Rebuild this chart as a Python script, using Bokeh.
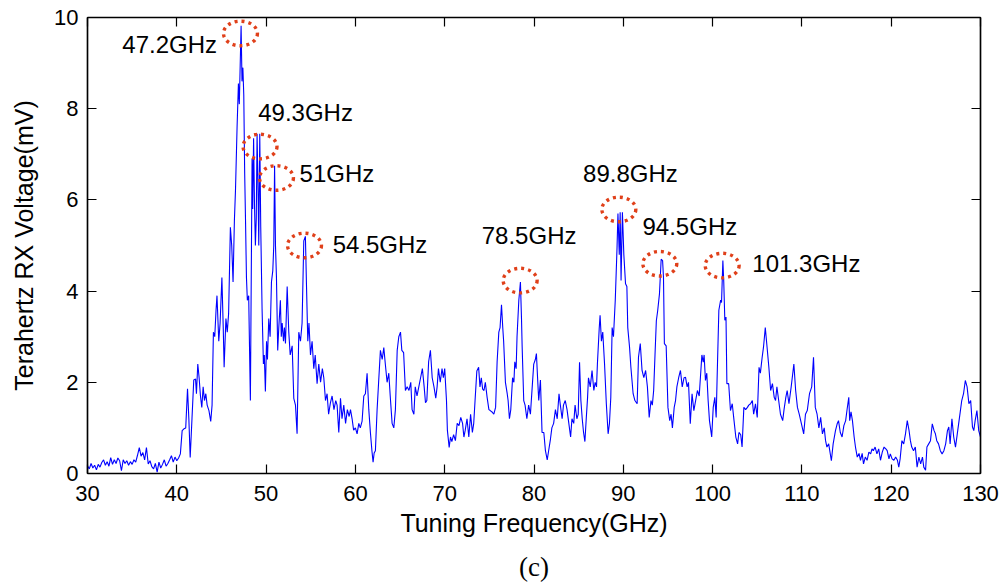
from bokeh.plotting import figure
from bokeh.models import Range1d, FixedTicker, LinearAxis, Title
from bokeh.core.properties import value
from bokeh.embed import file_html
from bokeh.resources import INLINE

# ---------------- data ----------------
freq_30_40 = [30.0,30.2,30.4,30.6,30.8,31.0,31.2,31.4,31.6,31.8,
              32.0,32.2,32.4,32.6,32.8,33.0,33.2,33.4,33.6,33.8,
              34.0,34.2,34.4,34.6,34.8,35.0,35.2,35.4,35.6,35.8,
              36.0,36.2,36.4,36.6,36.8,37.0,37.2,37.4,37.6,37.8,
              38.0,38.2,38.4,38.6,38.8,39.0,39.2,39.4,39.6,39.8,
              40.0,40.2,40.4]
volt_30_40 = [0.17,0.10,0.22,0.12,0.18,0.08,0.20,0.14,0.24,0.30,
              0.18,0.26,0.16,0.35,0.20,0.30,0.22,0.34,0.28,0.06,
              0.30,0.22,0.28,0.18,0.26,0.20,0.30,0.25,0.40,0.57,
              0.38,0.46,0.30,0.57,0.21,0.28,0.15,0.10,0.22,0.03,
              0.25,0.12,0.20,0.30,0.16,0.22,0.30,0.39,0.25,0.36,
              0.28,0.34,0.43]

freq_40_51 = [40.6,40.8,41.0,41.2,41.35,41.5,41.7,41.9,42.1,42.2,
              42.35,42.5,42.65,42.8,42.95,43.1,43.25,43.4,43.6,43.8,
              43.95,44.1,44.25,44.4,44.5,44.7,44.85,45.05,45.2,45.3,
              45.5,45.65,45.8,46.0,46.15,46.3,46.45,46.57,46.75,46.9,
              47.0,47.2,47.3,47.4,47.5,47.6,47.7,47.8,47.9,48.05,
              48.24,48.43,48.5,48.6,48.7,48.8,48.9,48.99,49.1,49.18,
              49.29,49.4,49.55,49.7,49.8,49.92,50.05,50.15,50.3,50.45,
              50.6,50.75,50.86,50.95]
volt_40_51 = [0.94,0.98,1.0,1.86,1.2,0.35,1.2,2.05,2.07,1.75,
              2.4,2.1,1.7,1.45,1.9,1.6,1.75,1.5,1.38,1.14,
              1.5,3.1,3.0,3.6,3.9,2.9,3.3,4.3,3.2,2.33,
              3.4,3.1,3.5,5.4,5.0,4.2,5.55,6.2,7.6,8.55,
              8.1,9.82,8.6,8.9,8.3,6.6,5.5,4.3,3.8,3.9,
              1.6,6.9,5.8,7.35,5.9,5.0,5.6,7.45,6.2,5.0,
              7.45,5.4,3.6,2.4,2.6,1.8,2.9,2.5,3.4,3.0,
              4.2,4.45,5.0,6.75]

freq_51_65 = [51.05,51.16,51.3,51.42,51.6,51.7,51.8,51.95,52.05,52.17,
              52.36,52.54,52.7,52.92,53.1,53.29,53.47,53.66,53.85,54.03,
              54.22,54.4,54.52,54.67,54.8,54.97,55.15,55.34,55.5,55.71,
              55.9,56.1,56.3,56.46,56.65,56.83,57.0,57.2,57.39,57.6,
              57.8,57.95,58.14,58.33,58.5,58.7,58.9,59.1,59.3,59.45,
              59.63,59.8,60.0,60.19,60.38,60.55,60.75,60.94,61.12,61.31,
              61.5,61.68,61.85,61.98,62.1,62.24,62.43,62.6,62.8,63.0,
              63.18,63.35,63.55,63.74,63.9,64.11,64.3,64.48,64.68,64.86]
volt_51_65 = [5.0,4.3,2.7,3.2,3.8,3.0,3.3,2.9,3.2,2.85,
              4.1,3.1,2.6,2.8,1.65,1.5,0.87,3.1,2.9,3.3,
              5.1,5.2,4.15,2.9,3.3,2.6,2.9,2.3,2.6,1.97,
              2.4,2.0,2.3,2.1,1.6,1.75,1.3,1.55,1.7,1.4,
              1.6,1.5,0.9,1.65,1.2,1.5,1.1,1.4,1.25,1.4,
              1.2,0.95,1.0,0.87,1.1,1.0,1.15,1.7,1.75,2.2,
              1.4,0.9,0.5,0.25,0.45,0.5,1.4,2.0,2.7,2.5,
              2.76,2.4,2.0,2.2,1.7,1.1,1.0,1.4,2.7,3.0]

freq_65_80 = [65.05,65.2,65.4,65.6,65.8,66.0,66.2,66.35,66.55,66.7,
              66.9,67.1,67.3,67.5,67.7,67.85,68.0,68.2,68.4,68.6,
              68.8,69.0,69.15,69.3,69.5,69.7,69.85,70.0,70.2,70.3,
              70.5,70.65,70.8,71.0,71.2,71.4,71.6,71.8,72.0,72.15,
              72.3,72.5,72.7,72.9,73.1,73.25,73.4,73.6,73.8,73.95,
              74.1,74.25,74.4,74.55,74.75,74.95,75.1,75.3,75.5,75.7,
              75.87,76.06,76.2,76.36,76.5,76.6,76.8,77.0,77.1,77.25,
              77.4,77.6,77.75,77.85,78.0,78.1,78.3,78.48,78.6,78.67,
              78.85,79.0,79.2,79.4,79.6,79.8,79.97]
volt_65_80 = [3.1,2.7,2.65,1.82,1.9,1.82,2.0,1.4,1.3,1.9,
              1.7,1.9,2.1,2.3,1.9,1.55,1.6,2.45,2.7,2.1,
              1.9,1.65,1.9,2.3,2.0,2.3,2.1,2.3,1.6,0.95,
              0.57,0.8,0.7,0.85,0.72,1.1,1.05,1.23,1.1,0.8,
              0.95,1.2,0.8,1.3,0.9,1.1,1.6,2.25,2.33,1.9,
              2.1,1.85,1.82,2.0,1.67,1.4,1.38,1.35,1.3,1.45,
              2.45,3.1,3.2,3.7,3.2,2.9,2.0,1.75,1.6,1.2,
              1.4,2.1,2.0,2.45,2.3,3.0,3.8,4.2,3.4,2.8,
              1.6,1.5,1.2,1.5,1.3,1.9,2.4]

freq_80_97 = [80.15,80.27,80.4,80.53,80.72,80.9,81.1,81.28,81.48,81.6,
              81.84,82.0,82.2,82.4,82.6,82.8,82.95,83.15,83.3,83.5,
              83.7,83.9,84.1,84.25,84.45,84.6,84.8,84.95,85.1,85.25,
              85.4,85.55,85.7,85.85,86.0,86.1,86.3,86.5,86.7,86.85,
              87.0,87.1,87.3,87.4,87.55,87.7,87.9,88.1,88.3,88.45,
              88.6,88.75,88.9,89.1,89.3,89.4,89.55,89.65,89.75,89.9,
              90.06,90.25,90.4,90.5,90.7,90.85,91.1,91.3,91.55,91.7,
              91.9,92.1,92.3,92.5,92.7,92.9,93.1,93.25,93.4,93.55,
              93.7,93.85,94.05,94.24,94.4,94.5,94.6,94.8,95.0,95.2,
              95.35,95.5,95.7,95.85,96.0,96.2,96.4,96.6,96.8]
volt_80_97 = [2.5,2.63,2.1,1.6,2.05,0.9,0.9,0.5,0.3,0.45,
              0.75,1.0,1.1,1.4,1.2,1.75,1.5,1.2,1.5,1.6,
              1.4,1.1,0.8,1.2,1.1,1.5,1.2,1.3,2.44,1.6,
              1.2,0.9,0.7,1.2,1.67,2.1,1.9,2.26,1.82,2.0,
              1.9,2.4,3.17,3.47,2.9,3.1,2.4,1.53,0.87,1.1,
              1.67,3.2,3.0,3.8,4.96,5.7,4.8,5.73,4.23,5.73,
              4.8,4.16,4.1,3.2,2.77,2.33,1.75,1.6,1.53,2.55,
              2.85,2.26,2.1,2.26,1.9,1.23,1.6,1.5,1.82,2.6,
              3.35,3.57,3.94,4.7,4.67,4.3,2.85,2.8,1.45,1.16,
              1.3,1.0,1.45,1.6,1.9,2.1,2.26,1.9,2.1]

freq_97_113 = [96.97,97.15,97.3,97.5,97.7,97.9,98.1,98.3,98.5,98.8,
               98.95,99.05,99.2,99.35,99.5,99.65,99.9,100.07,100.25,100.4,
               100.5,100.7,100.9,101.0,101.15,101.25,101.37,101.5,101.6,101.8,
               102.0,102.2,102.4,102.6,102.8,102.95,103.15,103.3,103.5,103.7,
               103.9,104.05,104.25,104.45,104.6,104.8,105.0,105.2,105.35,105.55,
               105.7,105.9,106.1,106.3,106.5,106.7,106.9,107.05,107.2,107.4,
               107.6,107.85,108.0,108.2,108.35,108.55,108.8,109.1,109.3,109.5,
               109.7,109.95,110.2,110.4,110.6,110.85,111.1,111.3,111.5,111.7,
               111.9,112.1,112.3,112.5,112.65,112.8,113.0,113.3,113.5]
volt_97_113 = [2.11,1.9,2.0,1.09,1.75,1.38,1.6,1.82,1.7,2.6,
               2.44,2.6,2.04,2.2,1.6,1.16,0.8,1.45,1.67,1.23,
               2.04,3.58,3.8,3.75,4.67,4.2,3.36,3.43,1.97,1.97,
               1.38,1.53,1.16,0.8,0.65,0.9,0.85,0.58,1.45,1.4,
               1.45,1.5,1.53,1.6,1.3,1.53,1.23,2.33,2.2,2.55,
               2.77,3.2,2.77,2.33,1.82,1.97,1.67,1.6,1.9,1.6,
               1.3,1.16,1.4,1.67,1.82,1.53,1.9,2.4,1.82,1.45,
               1.3,1.09,0.87,1.3,1.38,1.75,1.9,2.55,1.45,1.3,
               1.0,1.23,0.87,1.0,0.72,0.58,0.65,0.28,0.65]

freq_113_130 = [113.76,113.95,114.1,114.3,114.5,114.7,114.9,115.07,115.25,115.35,
                115.5,115.66,115.85,116.0,116.2,116.4,116.56,116.75,116.9,117.1,
                117.3,117.5,117.7,117.85,118.0,118.2,118.4,118.6,118.8,119.0,
                119.2,119.4,119.55,119.75,119.9,120.1,120.3,120.5,120.7,120.85,
                121.0,121.2,121.4,121.6,121.8,122.0,122.15,122.3,122.5,122.7,
                122.9,123.1,123.3,123.5,123.65,123.85,124.0,124.2,124.4,124.6,
                124.8,124.95,125.1,125.3,125.5,125.7,125.9,126.1,126.3,126.45,
                126.6,126.8,127.0,127.2,127.4,127.6,127.75,127.9,128.1,128.3,
                128.5,128.7,128.9,129.1,129.25,129.4,129.6,129.8,130.0]
volt_113_130 = [0.94,1.09,1.16,0.9,0.8,1.05,1.16,1.42,1.67,1.16,
                1.35,1.16,0.8,0.58,0.36,0.44,0.29,0.44,0.21,0.36,
                0.29,0.47,0.43,0.54,0.5,0.58,0.43,0.54,0.29,0.47,
                0.58,0.54,0.5,0.32,0.43,0.32,0.29,0.36,0.29,0.14,
                0.32,0.72,0.65,0.87,1.16,0.94,0.72,0.58,0.5,0.58,
                0.14,0.36,0.21,0.36,0.14,0.07,0.58,0.65,0.72,1.09,
                0.94,0.87,0.72,0.65,0.5,0.43,0.5,0.65,0.94,1.02,
                0.65,1.2,0.8,0.58,0.87,1.16,1.38,1.6,1.75,2.04,
                1.9,1.53,1.6,1.02,0.94,1.16,1.38,0.94,0.8]

# marked peaks (ellipse centres) and their labels
peak_freq = [47.13, 49.32, 51.16, 54.30, 78.45, 89.50, 94.09, 101.07]
peak_volt = [9.65, 7.17, 6.48, 5.00, 4.23, 5.79, 4.60, 4.56]
peak_labels = ["47.2GHz", "49.3GHz", "51GHz", "54.5GHz",
               "78.5GHz", "89.8GHz", "94.5GHz", "101.3GHz"]
label_freq = [33.9, 49.12, 53.75, 57.45, 74.15, 85.5, 92.15, 104.45]
label_volt = [9.41, 7.92, 6.57, 5.02, 5.22, 6.58, 5.42, 4.60]

x_ticks = [30, 40, 50, 60, 70, 80, 90, 100, 110, 120, 130]
y_ticks = [0, 2, 4, 6, 8, 10]

# ---------------- assemble ----------------
segments = [(freq_30_40, volt_30_40), (freq_40_51, volt_40_51),
            (freq_51_65, volt_51_65), (freq_65_80, volt_65_80),
            (freq_80_97, volt_80_97), (freq_97_113, volt_97_113),
            (freq_113_130, volt_113_130)]
freq, volt = [], []
for f, v in segments:
    assert len(f) == len(v), (len(f), len(v), f[0])
    freq += f
    volt += v

FONT = "Liberation Sans"

p = figure(frame_width=893, frame_height=456,
           x_range=Range1d(30, 130), y_range=Range1d(0, 10),
           output_backend="svg", toolbar_location=None,
           min_border_left=87, min_border_top=17,
           min_border_right=20, min_border_bottom=113,
           background_fill_color="white", border_fill_color="white")
p.grid.visible = False
p.outline_line_color = "black"
p.outline_line_width = 1.2

def style_axis(ax, show_labels):
    ax.major_tick_in = 9
    ax.major_tick_out = 0
    ax.minor_tick_line_color = None
    ax.axis_line_color = "black"
    ax.axis_line_width = 1.5
    ax.major_tick_line_color = "black"
    ax.major_tick_line_width = 1.2
    if show_labels:
        ax.major_label_text_font = FONT
        ax.major_label_text_font_size = "22px"
        ax.major_label_text_color = "black"
        ax.axis_label_text_font = FONT
        ax.axis_label_text_font_size = "25px"
        ax.axis_label_text_font_style = "normal"
        ax.axis_label_text_color = "black"
    else:
        ax.major_label_text_color = None
        ax.major_label_standoff = 0

xa = p.xaxis[0]
xa.ticker = FixedTicker(ticks=x_ticks)
xa.axis_label = "Tuning Frequency(GHz)"
style_axis(xa, True)
xa.major_label_standoff = 12
xa.axis_label_standoff = 5

ya = p.yaxis[0]
ya.ticker = FixedTicker(ticks=y_ticks)
ya.axis_label = "Terahertz RX Voltage(mV)"
style_axis(ya, True)
ya.major_label_standoff = 9
ya.axis_label_standoff = 13

top = LinearAxis(ticker=FixedTicker(ticks=x_ticks))
style_axis(top, False)
p.add_layout(top, "above")
right = LinearAxis(ticker=FixedTicker(ticks=y_ticks))
style_axis(right, False)
p.add_layout(right, "right")

p.line(freq, volt, line_color="#0000FF", line_width=1.1)

p.ellipse(x=peak_freq, y=peak_volt, width=3.8, height=0.54,
          fill_color=None, line_color="#E0401A", line_width=3.4,
          line_dash="3 4")

p.text(x=label_freq, y=label_volt, text=peak_labels,
       text_font=value(FONT), text_font_size="24px",
       text_color="black", text_align="left", text_baseline="middle")

cap = Title(text="(c)", align="center", text_font="Liberation Serif",
            text_font_size="27px", text_font_style="normal",
            text_color="black", standoff=20)
p.add_layout(cap, "below")

open("out.html", "w").write(file_html(p, INLINE))
